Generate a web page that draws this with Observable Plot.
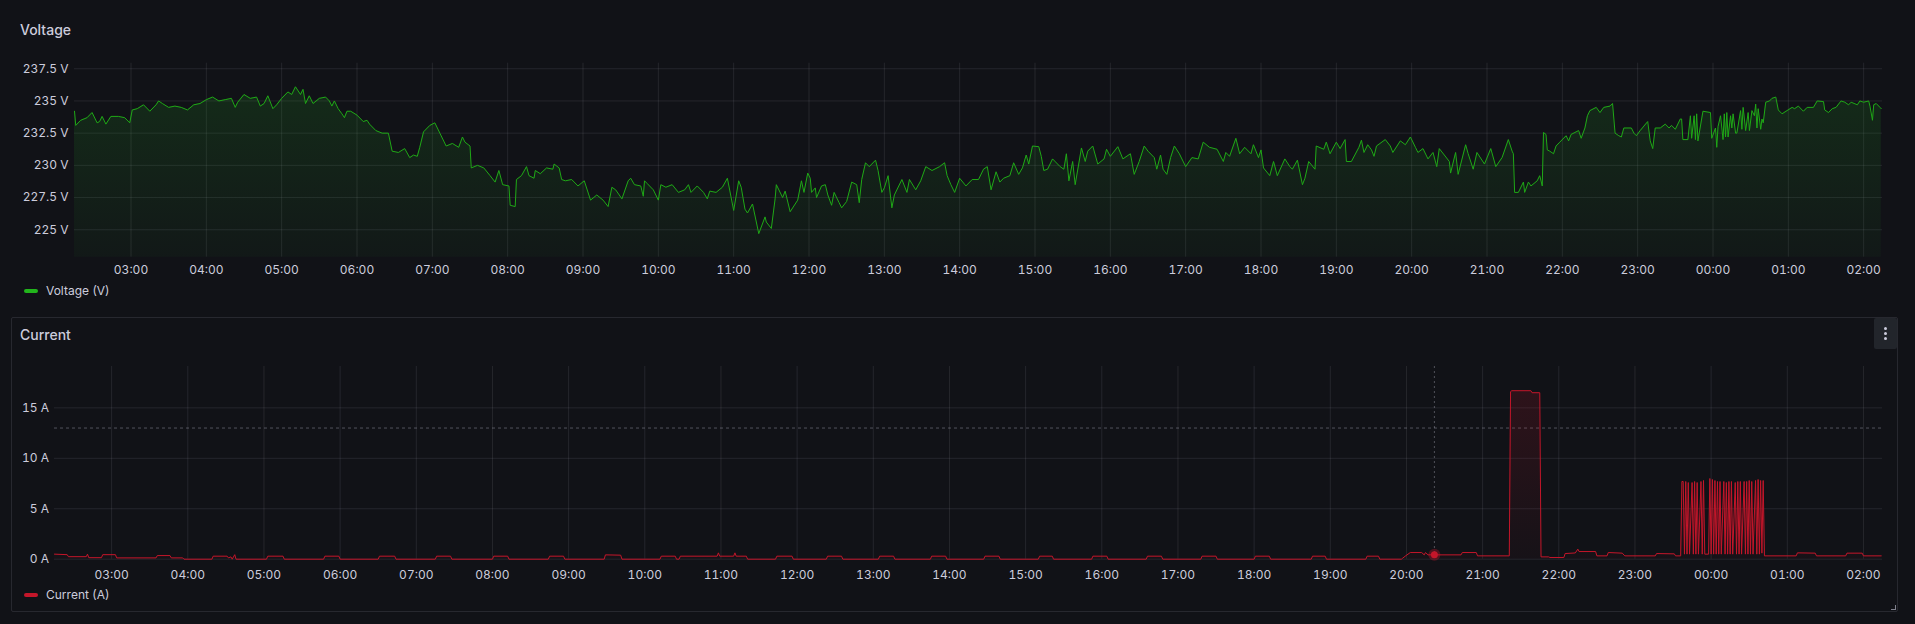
<!DOCTYPE html>
<html>
<head>
<meta charset="utf-8">
<script src="https://cdn.jsdelivr.net/npm/d3@7"></script>
<script src="https://cdn.jsdelivr.net/npm/@observablehq/plot@0.6"></script>
<style>
  html, body { margin: 0; padding: 0; }
  body {
    width: 1915px; height: 624px; overflow: hidden; position: relative;
    background: #111217; color: #ccccdc; font-family: Inter, "Noto Sans", sans-serif;
  }
  .title { position: absolute; left: 20px; font-size: 14px; font-weight: 500; line-height: 14px; }
  .legend { position: absolute; left: 24px; font-size: 12px; line-height: 12px; display: flex; align-items: center; }
  .swatch { width: 14px; height: 4px; border-radius: 2px; margin-right: 8px; }
  .chart { position: absolute; left: 0; }
  #panel {
    position: absolute; left: 11px; top: 317px; width: 1887px; height: 295px;
    border: 1px solid rgba(204, 204, 220, 0.12); border-radius: 2px; box-sizing: border-box;
  }
  #menu {
    position: absolute; left: 1874px; top: 318px; width: 23px; height: 31px;
    background: #22252b; border-radius: 2px;
  }
  #menu span { position: absolute; left: 10px; width: 3px; height: 3px; border-radius: 50%; background: #ccccdc; }
  #resize {
    position: absolute; left: 1891px; top: 605px; width: 4px; height: 4px;
    border-right: 1.5px solid rgba(204, 204, 220, 0.6); border-bottom: 1.5px solid rgba(204, 204, 220, 0.6);
  }
</style>
</head>
<body>
<div id="panel"></div>
<div id="menu"><span style="top:9px"></span><span style="top:14px"></span><span style="top:19px"></span></div>
<div id="resize"></div>
<div class="title" style="top:23px">Voltage</div>
<div class="title" style="top:328px">Current</div>
<div id="voltage" class="chart" style="top:50px"></div>
<div id="current" class="chart" style="top:356px"></div>
<div class="legend" style="top:285px"><div class="swatch" style="background:#22b51c"></div>Voltage (V)</div>
<div class="legend" style="top:589px"><div class="swatch" style="background:#c4162a"></div>Current (A)</div>
<script>
const windowStart = "02:15";
const hourTicks = ["03:00", "04:00", "05:00", "06:00", "07:00", "08:00", "09:00", "10:00", "11:00",
  "12:00", "13:00", "14:00", "15:00", "16:00", "17:00", "18:00", "19:00", "20:00", "21:00",
  "22:00", "23:00", "00:00", "01:00", "02:00"];
const voltTicks = [225, 227.5, 230, 232.5, 235, 237.5];
const voltDomain = [222.87, 237.93];
const ampTicks = [0, 5, 10, 15];
const ampDomain = [0, 19.1];
const ampThreshold = 13;
const hoverTime = "20:22";

// readings, HH:MM (times before 02:15 belong to the next day)
const voltage = [
  ["02:15",234.2],["02:16",233.1],["02:20",233.5],["02:25",233.7],["02:29",234.1],["02:33",233.3],["02:35",233.4],
  ["02:37",233.8],["02:40",233.2],["02:44",233.8],["02:50",233.8],["02:55",233.7],["02:59",233.3],["03:01",234.3],
  ["03:05",234.4],["03:10",234.7],["03:15",234.2],["03:20",234.7],["03:22",235.0],["03:25",234.8],["03:30",234.5],
  ["03:35",234.6],["03:40",234.5],["03:45",234.3],["03:50",234.7],["03:55",234.8],["04:00",235.1],["04:05",235.3],
  ["04:10",235.0],["04:15",235.1],["04:20",235.2],["04:23",234.5],["04:25",234.9],["04:30",235.5],["04:35",235.2],
  ["04:40",235.3],["04:43",234.6],["04:46",234.8],["04:49",235.4],["04:53",234.4],["04:56",234.7],["05:00",235.2],
  ["05:05",235.7],["05:08",235.5],["05:11",236.1],["05:15",235.5],["05:17",235.9],["05:19",234.8],["05:22",235.4],
  ["05:25",234.8],["05:30",235.2],["05:35",235.3],["05:38",235.0],["05:40",234.6],["05:42",235.0],["05:45",234.4],
  ["05:48",234.0],["05:50",233.7],["05:52",234.2],["05:55",234.2],["06:00",233.9],["06:05",233.4],["06:08",233.5],
  ["06:10",233.2],["06:15",232.7],["06:20",232.5],["06:25",232.5],["06:28",231.1],["06:33",231.0],["06:38",231.3],
  ["06:42",230.6],["06:45",230.8],["06:48",230.7],["06:50",231.4],["06:53",232.6],["06:58",233.1],["07:02",233.3],
  ["07:06",232.5],["07:11",231.5],["07:16",231.7],["07:21",231.4],["07:24",232.2],["07:26",231.8],["07:30",231.5],
  ["07:31",229.8],["07:36",230.0],["07:41",229.8],["07:46",229.2],["07:50",228.7],["07:53",229.6],["07:56",228.5],
  ["08:01",228.4],["08:02",226.9],["08:06",226.8],["08:07",228.9],["08:11",229.2],["08:15",229.9],["08:17",229.2],
  ["08:21",229.0],["08:22",229.6],["08:26",229.35],["08:31",229.8],["08:36",229.7],["08:37",230.1],["08:41",229.8],
  ["08:43",228.9],["08:46",228.8],["08:51",228.9],["08:56",228.4],["09:01",228.8],["09:06",227.3],["09:11",227.7],
  ["09:16",227.3],["09:20",226.8],["09:23",228.3],["09:26",228.1],["09:31",227.4],["09:36",228.8],["09:38",229.0],
  ["09:41",228.5],["09:46",228.4],["09:48",227.6],["09:49",228.8],["09:51",228.6],["09:56",228.1],["10:00",227.3],
  ["10:02",228.5],["10:06",228.3],["10:11",228.5],["10:16",227.9],["10:21",228.1],["10:24",228.5],["10:26",227.9],
  ["10:31",228.4],["10:36",227.9],["10:39",227.4],["10:41",228.0],["10:46",227.9],["10:51",228.3],["10:55",229.0],
  ["11:00",226.5],["11:04",228.8],["11:06",228.3],["11:09",226.6],["11:11",226.3],["11:15",227.0],["11:20",224.7],
  ["11:25",226.0],["11:26",225.6],["11:30",225.1],["11:33",227.4],["11:34",228.5],["11:39",227.5],["11:41",228.0],
  ["11:45",226.4],["11:51",227.3],["11:54",228.8],["11:56",227.9],["11:59",229.4],["12:01",229.0],["12:02",227.9],
  ["12:05",228.25],["12:06",227.5],["12:10",228.4],["12:13",228.5],["12:15",227.7],["12:18",226.9],["12:20",227.9],
  ["12:24",227.1],["12:26",226.7],["12:30",227.2],["12:34",228.7],["12:38",228.5],["12:40",227.1],["12:42",228.9],
  ["12:45",230.2],["12:48",229.9],["12:50",230.1],["12:53",230.4],["12:55",229.6],["12:58",227.9],["13:00",228.25],
  ["13:03",229.2],["13:06",226.7],["13:08",227.7],["13:14",228.9],["13:18",227.9],["13:20",228.9],["13:25",228.1],
  ["13:29",228.8],["13:33",229.9],["13:38",229.6],["13:44",229.9],["13:48",230.2],["13:50",229.2],["13:53",228.5],
  ["13:56",227.9],["14:00",229.0],["14:05",228.4],["14:10",228.9],["14:15",228.9],["14:19",229.7],["14:22",229.9],
  ["14:25",228.1],["14:29",229.5],["14:32",228.7],["14:35",229.0],["14:40",229.2],["14:43",230.2],["14:47",229.3],
  ["14:50",229.8],["14:53",230.8],["14:55",230.1],["14:58",231.5],["15:03",231.45],["15:05",230.7],["15:07",229.6],
  ["15:10",229.7],["15:14",230.5],["15:20",229.9],["15:23",229.7],["15:25",230.9],["15:27",228.8],["15:30",230.3],
  ["15:32",228.5],["15:37",231.35],["15:40",230.3],["15:42",231.1],["15:46",231.5],["15:50",230.1],["15:55",230.5],
  ["15:57",231.25],["16:00",230.7],["16:06",231.45],["16:10",230.5],["16:16",230.9],["16:19",229.3],["16:23",230.3],
  ["16:27",231.5],["16:30",231.1],["16:35",230.6],["16:37",229.7],["16:40",230.8],["16:42",229.7],["16:45",229.3],
  ["16:48",230.6],["16:51",231.5],["16:55",230.9],["17:00",229.9],["17:05",230.6],["17:10",230.5],["17:14",231.8],
  ["17:19",231.4],["17:25",231.25],["17:30",230.3],["17:32",231.0],["17:35",230.7],["17:40",232.1],["17:43",230.9],
  ["17:47",231.4],["17:52",230.9],["17:54",231.6],["17:58",230.6],["18:00",231.2],["18:02",229.8],["18:07",229.2],
  ["18:10",230.3],["18:13",229.2],["18:19",230.5],["18:23",229.9],["18:25",229.7],["18:29",230.4],["18:33",228.5],
  ["18:35",229.0],["18:38",230.3],["18:43",229.7],["18:44",231.5],["18:50",231.25],["18:52",231.8],["18:55",230.9],
  ["19:00",231.8],["19:03",231.3],["19:07",232.0],["19:08",230.3],["19:12",230.3],["19:18",231.4],["19:20",231.95],
  ["19:22",231.0],["19:25",231.6],["19:28",231.2],["19:30",230.7],["19:32",231.5],["19:39",232.0],["19:43",231.5],
  ["19:45",231.0],["19:51",231.9],["19:55",231.6],["19:59",232.2],["20:03",231.4],["20:05",231.0],["20:09",231.3],
  ["20:13",230.5],["20:17",231.0],["20:20",229.9],["20:22",231.3],["20:30",230.3],["20:31",229.4],["20:35",231.0],
  ["20:37",229.3],["20:43",231.6],["20:45",230.9],["20:49",229.7],["20:52",231.0],["20:58",230.1],["21:03",231.3],
  ["21:07",229.9],["21:12",230.6],["21:17",232.0],["21:20",231.1],["21:21",230.9],["21:22",227.9],["21:25",227.9],
  ["21:29",228.7],["21:30",227.9],["21:33",228.7],["21:35",228.4],["21:40",228.8],["21:42",229.2],["21:44",228.4],
  ["21:45",232.55],["21:47",232.4],["21:48",231.2],["21:50",231.1],["21:53",230.9],["21:55",231.5],["21:58",231.8],
  ["22:03",232.3],["22:05",231.9],["22:07",232.4],["22:13",232.7],["22:15",232.1],["22:18",232.9],["22:20",233.85],
  ["22:22",234.25],["22:27",234.5],["22:30",234.1],["22:33",234.5],["22:38",234.6],["22:40",234.8],["22:42",232.5],
  ["22:45",232.3],["22:47",232.2],["22:49",232.9],["22:55",232.9],["22:57",232.5],["22:59",232.3],["23:02",232.7],
  ["23:08",233.4],["23:10",231.9],["23:12",231.3],["23:14",232.9],["23:18",232.9],["23:22",233.2],["23:25",232.9],
  ["23:27",233.1],["23:30",232.8],["23:34",233.6],["23:35",233.6],["23:36",232.0],["23:40",232.0],["23:42",233.85],
  ["23:43",232.1],["23:45",233.85],["23:46",232.0],["23:47",234.0],["23:48",231.9],["23:52",234.2],["23:58",234.1],
  ["23:59",232.1],["00:02",232.9],["00:03",231.4],["00:04",233.0],["00:06",233.85],["00:08",232.0],["00:09",234.0],
  ["00:10",232.2],["00:11",234.1],["00:12",232.2],["00:14",233.85],["00:15",232.9],["00:16",234.0],["00:18",232.5],
  ["00:19",232.5],["00:22",234.25],["00:23",232.8],["00:24",234.5],["00:26",232.7],["00:28",234.1],["00:29",232.7],
  ["00:31",234.25],["00:33",233.85],["00:34",234.75],["00:35",232.9],["00:36",234.4],["00:38",232.8],["00:39",233.6],
  ["00:40",233.3],["00:42",234.9],["00:45",235.0],["00:47",235.2],["00:50",235.3],["00:52",234.3],["00:55",234.0],
  ["00:59",234.25],["01:03",234.5],["01:05",234.4],["01:08",234.6],["01:12",234.2],["01:15",234.5],["01:20",234.5],
  ["01:23",235.0],["01:28",234.95],["01:29",234.3],["01:32",234.1],["01:35",234.4],["01:38",234.5],["01:42",235.0],
  ["01:45",234.9],["01:48",234.7],["01:50",234.9],["01:55",234.7],["01:57",235.0],["02:00",234.9],["02:04",235.0],
  ["02:05",234.6],["02:07",233.5],["02:08",234.7],["02:10",234.8],["02:13",234.5],["02:14",234.4]
];

const current = [
  ["02:15",0.5],["02:25",0.45],["02:26",0.25],["02:40",0.25],["02:41",0.5],["02:42",0.15],["02:52",0.15],
  ["02:53",0.45],["03:03",0.45],["03:04",0.13],["03:35",0.13],["03:36",0.36],["03:46",0.36],["03:47",0.13],
  ["03:56",0.13],["03:57",0],["04:19",0],["04:20",0.3],["04:31",0.3],["04:32",0.13],["04:34",0.23],["04:35",0],
  ["04:37",0.45],["04:38",0],["05:02",0],["05:03",0.3],["05:15",0.3],["05:16",0],["05:47",0],["05:48",0.3],
  ["05:59",0.3],["06:00",0],["06:30",0],["06:31",0.3],["06:43",0.3],["06:44",0],["07:15",0],["07:16",0.3],
  ["07:27",0.3],["07:28",0],["08:00",0],["08:01",0.3],["08:12",0.3],["08:13",0],["08:44",0],["08:45",0.3],
  ["08:56",0.3],["08:57",0],["09:28",0],["09:29",0.43],["09:41",0.4],["09:42",0],["10:12",0],["10:13",0.3],
  ["10:24",0.3],["10:25",0],["10:27",0],["10:28",0.3],["10:57",0.3],["10:58",0.63],["10:59",0.3],["11:10",0.3],
  ["11:11",0.63],["11:12",0.3],["11:20",0.3],["11:21",0],["11:43",0],["11:44",0.3],["11:56",0.3],["11:57",0],
  ["12:23",0],["12:24",0.3],["12:35",0.3],["12:36",0],["13:04",0],["13:05",0.3],["13:16",0.3],["13:17",0],
  ["13:45",0],["13:46",0.3],["13:57",0.3],["13:58",0],["14:27",0],["14:28",0.3],["14:39",0.3],["14:40",0],
  ["15:10",0],["15:11",0.3],["15:21",0.3],["15:22",0],["15:52",0],["15:53",0.3],["16:04",0.3],["16:05",0],
  ["16:35",0],["16:36",0.3],["16:47",0.3],["16:48",0],["17:18",0],["17:19",0.3],["17:30",0.3],["17:31",0],
  ["18:00",0],["18:01",0.3],["18:12",0.3],["18:13",0],["18:45",0],["18:46",0.3],["18:56",0.3],["18:57",0],
  ["19:28",0],["19:29",0.3],["19:38",0.3],["19:39",0],["19:56",0],["19:57",0.1],["19:59",0.3],["20:03",0.66],
  ["20:12",0.66],["20:14",0.43],["20:15",0.66],["20:17",0.43],["20:43",0.43],["20:44",0.66],["20:55",0.66],
  ["20:56",0.33],["21:21",0.33],["21:22",16.6],["21:23",16.7],["21:38",16.7],["21:39",16.5],["21:45",16.5],
  ["21:46",0.23],["21:52",0.23],["21:53",0.17],["22:04",0.17],["22:05",0.56],["22:13",0.62],["22:15",1.0],
  ["22:16",0.76],["22:29",0.76],["22:30",0.33],["22:38",0.33],["22:39",0.66],["22:50",0.6],["22:52",0.33],
  ["23:16",0.33],["23:17",0.56],["23:31",0.53],["23:32",0.33],["23:36",0.33],
  ["23:37",7.7],["23:38",7.7],["23:39",0.5],["23:40",7.7],["23:41",0.5],["23:42",7.6],["23:43",0.5],["23:45",7.6],
  ["23:46",0.5],["23:47",7.7],["23:48",0.5],["23:49",7.6],["23:50",0.5],["23:52",7.7],["23:53",0.5],["23:54",7.8],
  ["23:55",0.5],["23:58",0.5],["23:59",8.0],["00:00",0.5],["00:01",7.9],["00:02",0.5],["00:03",7.8],["00:04",0.5],
  ["00:05",7.7],["00:06",0.5],["00:07",7.7],["00:08",0.5],["00:10",7.7],["00:11",0.5],["00:12",7.6],["00:13",0.5],
  ["00:14",7.7],["00:15",0.5],["00:16",7.7],["00:17",0.5],["00:19",7.6],["00:20",0.5],["00:21",7.7],["00:22",0.5],
  ["00:23",7.7],["00:24",0.5],["00:26",7.7],["00:27",0.5],["00:28",7.7],["00:29",0.5],["00:30",7.8],["00:31",0.5],
  ["00:32",7.7],["00:33",0.5],["00:35",7.8],["00:36",0.5],["00:37",7.9],["00:38",0.5],["00:39",7.8],["00:40",0.6],
  ["00:41",7.8],["00:42",0.33],
  ["01:07",0.33],["01:08",0.63],["01:22",0.6],["01:23",0.33],["01:46",0.33],["01:47",0.6],["01:59",0.6],
  ["02:00",0.33],["02:14",0.33]
];

const [sh, sm] = windowStart.split(":").map(Number);
const startMinutes = sh * 60 + sm;
function toDate(hhmm) {
  const [h, m] = hhmm.split(":").map(Number);
  const day = h * 60 + m < startMinutes ? 2 : 1;
  return new Date(2024, 0, day, h, m);
}
const t0 = toDate(windowStart);
const t1 = d3.timeDay.offset(t0, 1);
const tickDates = hourTicks.map(toDate);
const fmt = d3.timeFormat("%H:%M");

const voltRows = voltage.map(([t, v]) => ({t: toDate(t), v}));
const ampRows = current.map(([t, v]) => ({t: toDate(t), v}));

function gradient(id, color, top, bottom, a0, a1) {
  return () => {
    const defs = document.createElementNS("http://www.w3.org/2000/svg", "defs");
    defs.innerHTML = `<linearGradient id="${id}" gradientUnits="userSpaceOnUse" x1="0" x2="0" y1="${top}" y2="${bottom}">
      <stop offset="0" stop-color="${color}" stop-opacity="${a0}"/>
      <stop offset="1" stop-color="${color}" stop-opacity="${a1}"/></linearGradient>`;
    return defs;
  };
}

function timeseries(o) {
  const bottom = o.height - o.marginBottom;
  return Plot.plot({
    width: 1915,
    height: o.height,
    marginLeft: o.marginLeft,
    marginRight: 33,
    marginTop: o.marginTop,
    marginBottom: o.marginBottom,
    style: {background: "transparent", color: "#ccccdc", fontFamily: "Inter, sans-serif", fontSize: "12px"},
    x: {type: "time", domain: [t0, t1]},
    y: {domain: o.yDomain},
    marks: [
      gradient(o.id, o.fill, o.marginTop, bottom, o.alpha[0], o.alpha[1]),
      Plot.gridX(tickDates, {stroke: "#ccccdc", strokeOpacity: 0.11}),
      Plot.gridY(o.yTicks, {stroke: "#ccccdc", strokeOpacity: 0.11}),
      Plot.axisX({ticks: tickDates, tickFormat: fmt, tickSize: 0, tickPadding: o.padX, label: null}),
      Plot.axisY({ticks: o.yTicks, tickFormat: d => `${d} ${o.unit}`, tickSize: 0, tickPadding: o.padY, label: null}),
      ...(o.before || []),
      Plot.areaY(o.data, {x: "t", y1: o.yDomain[0], y2: "v", fill: `url(#${o.id})`}),
      Plot.lineY(o.data, {x: "t", y: "v", stroke: o.color, strokeWidth: 1}),
      ...(o.after || [])
    ]
  });
}

document.getElementById("voltage").append(timeseries({
  id: "vfill", data: voltRows, color: "#1fa816", fill: "#26b526", alpha: [0.17, 0.04],
  height: 232, marginLeft: 74, marginTop: 12.7, marginBottom: 25.3,
  yDomain: voltDomain, yTicks: voltTicks, unit: "V", padX: 8.5, padY: 6
}));

const hoverAt = toDate(hoverTime);
const hoverRow = {t: hoverAt, v: ampRows[d3.bisector(d => d.t).right(ampRows, hoverAt) - 1].v};

document.getElementById("current").append(timeseries({
  id: "afill", data: ampRows, color: "#c4162a", fill: "#c4162a", alpha: [0.18, 0.03],
  height: 232, marginLeft: 54, marginTop: 10, marginBottom: 29.3,
  yDomain: ampDomain, yTicks: ampTicks, unit: "A", padX: 11, padY: 5.4,
  before: [
    Plot.ruleY([ampThreshold], {stroke: "#ccccdc", strokeOpacity: 0.35, strokeDasharray: "3,3"})
  ],
  after: [
    Plot.ruleX([hoverRow], {x: "t", stroke: "#ccccdc", strokeOpacity: 0.35, strokeDasharray: "2,3"}),
    Plot.dot([hoverRow], {x: "t", y: "v", r: 6, fill: "#c4162a", fillOpacity: 0.35}),
    Plot.dot([hoverRow], {x: "t", y: "v", r: 3.5, fill: "#c4162a"})
  ]
}));
</script>
</body>
</html>
